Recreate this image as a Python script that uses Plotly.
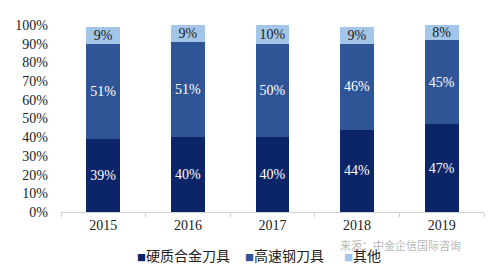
import plotly.graph_objects as go

years = ["2015", "2016", "2017", "2018", "2019"]
carbide = [39, 40, 40, 44, 47]
hss = [51, 51, 50, 46, 45]
other = [9, 9, 10, 9, 8]
series_names = ["硬质合金刀具", "高速钢刀具", "其他"]
y_ticks = [0, 10, 20, 30, 40, 50, 60, 70, 80, 90, 100]
y_labels = [f"{v}%" for v in y_ticks]

colors = ["#0c2468", "#2f5597", "#a3c6e8"]
text_colors = ["white", "white", "#1a1a1a"]

fig = go.Figure()
for name, vals, c, tc in zip(series_names, [carbide, hss, other], colors, text_colors):
    fig.add_trace(go.Bar(
        x=years, y=vals, name=name, marker=dict(color=c, line=dict(width=0)),
        text=[f"{v}%" for v in vals], textposition="inside", insidetextanchor="middle",
        constraintext="none",
        textfont=dict(family="Liberation Serif", size=14, color=tc),
        width=0.4, showlegend=False,
    ))

fig.update_layout(
    barmode="stack",
    width=488, height=265,
    margin=dict(l=61, r=4, t=25, b=53),
    paper_bgcolor="white", plot_bgcolor="white",
    font=dict(family="Liberation Serif", size=14, color="#222"),
    showlegend=False,
)
fig.update_xaxes(type="category", showline=True, linecolor="#d0d0d0", linewidth=1,
                 ticks="outside", tickson="boundaries", ticklen=4, tickcolor="#d0d0d0",
                 showgrid=False, tickfont=dict(family="Liberation Serif", size=14))
fig.update_yaxes(range=[0, 100], tickvals=y_ticks, ticktext=y_labels, showgrid=False,
                 showline=False, zeroline=False, ticks="", ticklabelstandoff=12,
                 tickfont=dict(family="Liberation Serif", size=14))

PW = 488 - 61 - 4
PH = 265 - 25 - 53

fig.add_annotation(text="来源：中金企信国际咨询", xref="paper", yref="paper",
                   x=(338 - 61) / PW, y=-(245 - 212) / PH,
                   xanchor="left", yanchor="middle", showarrow=False,
                   font=dict(family="Noto Sans CJK SC", size=11, color="#b8b8b8"))

# legend (manual, to match the compact square-marker style)
legend_x = [135, 243, 342]
for name, c, lx in zip(series_names, colors, legend_x):
    fig.add_annotation(
        text=f"<span style='color:{c};font-size:9px'>■</span>{name}",
        xref="paper", yref="paper",
        x=(lx - 61) / PW, y=-(255 - 212) / PH,
        xanchor="left", yanchor="middle", showarrow=False,
        font=dict(family="Noto Sans CJK SC", size=14, color="#222"))

fig.write_html("out.html")
